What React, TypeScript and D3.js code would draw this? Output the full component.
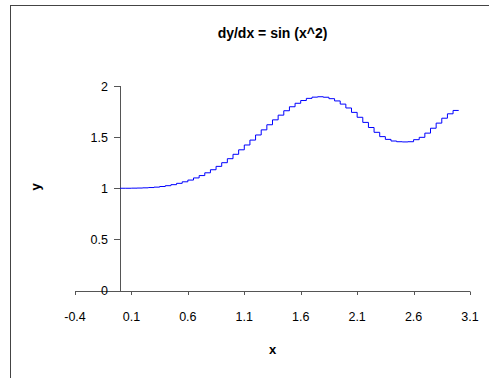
import * as d3 from 'd3';

const title = 'dy/dx = sin (x^2)';
const xTicks = [-0.4, 0.1, 0.6, 1.1, 1.6, 2.1, 2.6, 3.1];
const yTicks = [0, 0.5, 1, 1.5, 2];

// step edges along x and the y value held on each step
const stepX = [
  0, 0.05, 0.1, 0.15, 0.2, 0.25, 0.3, 0.35, 0.4, 0.45, 0.5, 0.55, 0.6, 0.65, 0.7,
  0.75, 0.8, 0.85, 0.9, 0.95, 1.0, 1.05, 1.1, 1.15, 1.2, 1.25, 1.3, 1.35, 1.4,
  1.45, 1.5, 1.55, 1.6, 1.65, 1.7, 1.75, 1.8, 1.85, 1.9, 1.95, 2.0, 2.05, 2.1,
  2.15, 2.2, 2.25, 2.3, 2.35, 2.4, 2.45, 2.5, 2.55, 2.6, 2.65, 2.7, 2.75, 2.8,
  2.85, 2.9, 2.95, 3.0,
];
const stepY = [
  1.0, 1.0, 1.001, 1.002, 1.004, 1.007, 1.011, 1.017, 1.025, 1.035, 1.048,
  1.063, 1.08, 1.101, 1.124, 1.151, 1.181, 1.214, 1.25, 1.289, 1.332, 1.376,
  1.423, 1.471, 1.521, 1.571, 1.621, 1.669, 1.715, 1.758, 1.797, 1.831, 1.858,
  1.879, 1.891, 1.895, 1.89, 1.876, 1.854, 1.823, 1.785, 1.742, 1.694, 1.644,
  1.594, 1.547, 1.505, 1.478, 1.462, 1.455, 1.453, 1.455, 1.475, 1.498, 1.539,
  1.587, 1.637, 1.685, 1.728, 1.761,
];

const font = '"Liberation Sans", Arial, sans-serif';

export default function App() {
  const width = 489;
  const height = 378;
  const x = d3.scaleLinear().domain([-0.4, 3.1]).range([75, 470]);
  const y = d3.scaleLinear().domain([0, 2]).range([290.5, 86]);
  const axisY = y(0);
  const axisX = x(0);

  const points: [number, number][] = stepX.map((d, i) => [
    d,
    stepY[Math.min(i, stepY.length - 1)],
  ]);
  const line = d3
    .line<[number, number]>()
    .x((d) => x(d[0]))
    .y((d) => y(d[1]))
    .curve(d3.curveStepAfter);

  return (
    <div style={{ position: 'fixed', left: 0, top: 0 }}>
      <svg width={width} height={height} style={{ display: 'block', background: '#fff' }}>
        <rect x={10.5} y={5.5} width={600} height={500} fill="#fff" stroke="#444" />
        <text
          x={272.5}
          y={38}
          textAnchor="middle"
          fontFamily={font}
          fontSize={14}
          fontWeight="bold"
        >
          {title}
        </text>

        {/* x axis */}
        <line
          x1={x(-0.4)}
          x2={x(3.1)}
          y1={Math.round(axisY) + 0.5}
          y2={Math.round(axisY) + 0.5}
          stroke="#555"
        />
        {xTicks.map((t) => (
          <g key={t}>
            <line
              x1={Math.round(x(t)) + 0.5}
              x2={Math.round(x(t)) + 0.5}
              y1={Math.round(axisY) + 0.5}
              y2={Math.round(axisY) + 4}
              stroke="#555"
            />
            <text
              x={x(t)}
              y={321}
              textAnchor="middle"
              fontFamily={font}
              fontSize={12.5}
            >
              {t}
            </text>
          </g>
        ))}
        <text
          x={272.5}
          y={354}
          textAnchor="middle"
          fontFamily={font}
          fontSize={13}
          fontWeight="bold"
        >
          x
        </text>

        {/* y axis */}
        <line
          x1={Math.round(axisX) + 0.5}
          x2={Math.round(axisX) + 0.5}
          y1={y(2)}
          y2={Math.round(axisY) + 0.5}
          stroke="#555"
        />
        {yTicks.map((t) => (
          <g key={t}>
            <line
              x1={Math.round(axisX) - 6}
              x2={Math.round(axisX) + 0.5}
              y1={Math.round(y(t)) + 0.5}
              y2={Math.round(y(t)) + 0.5}
              stroke="#555"
            />
            <text
              x={108}
              y={y(t) + 4.5}
              textAnchor="end"
              fontFamily={font}
              fontSize={12.5}
            >
              {t}
            </text>
          </g>
        ))}
        <text
          transform="translate(40,187) rotate(-90)"
          textAnchor="middle"
          fontFamily={font}
          fontSize={13}
          fontWeight="bold"
        >
          y
        </text>

        <path d={line(points) || ''} fill="none" stroke="#0000ff" strokeWidth={1} />
      </svg>
    </div>
  );
}
